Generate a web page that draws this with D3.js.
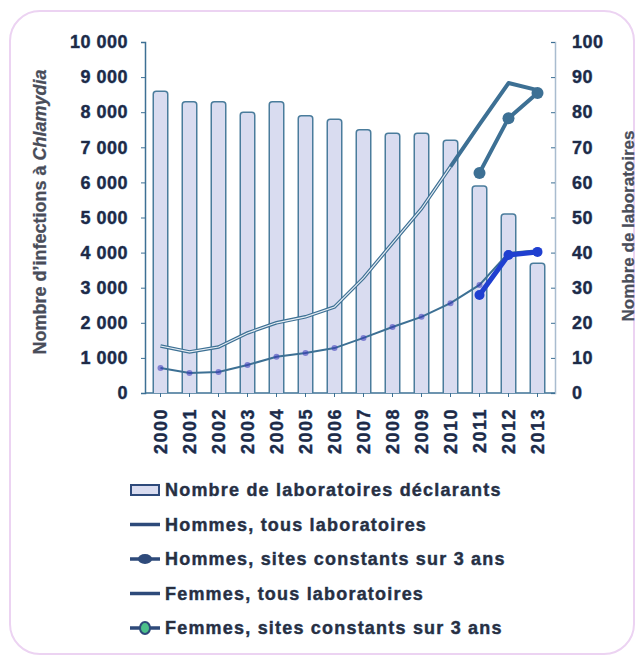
<!DOCTYPE html>
<html>
<head>
<meta charset="utf-8">
<script src="https://cdn.jsdelivr.net/npm/d3@7"></script>
<style>
  body { margin: 0; background: #fff; }
  svg { display: block; font-family: "Liberation Sans", Arial, sans-serif; }
  .lbl { font-weight: bold; fill: #1f2a45; stroke: #2f5f9a; stroke-width: 0.5px; paint-order: stroke; }
</style>
</head>
<body>
<svg width="640" height="657"></svg>
<script>
// années
let years = ['2000', '2001', '2002', '2003', '2004', '2005', '2006',
    '2007', '2008', '2009', '2010', '2011', '2012', '2013'];

// nombre de laboratoires déclarants (axe droit)
let labs = [86, 83, 83, 80, 83, 79, 78, 75, 74, 74, 72, 59, 51, 37];

// infections, tous laboratoires (axe gauche)
let femmesTous = [1340, 1170, 1310, 1710, 2000, 2170, 2450, 3280, 4270, 5250, 6450, 7650, 8830, 8630];
let hommesTous = [710, 570, 600, 800, 1030, 1140, 1280, 1570, 1880, 2170, 2560, 3080, 3990, 4070];

// sites constants sur 3 ans
let sitesYears = ['2011', '2012', '2013'];
let femmesSites = [6270, 7830, 8550];
let hommesSites = [2790, 3930, 4020];

let legendItems = [
    'Nombre de laboratoires déclarants',
    'Hommes, tous laboratoires',
    'Hommes, sites constants sur 3 ans',
    'Femmes, tous laboratoires',
    'Femmes, sites constants sur 3 ans'
];

let steel = '#3d7094';

let svg = d3.select('svg');

// cadre arrondi
svg.append('rect')
    .attr('x', 10).attr('y', 11)
    .attr('width', 624).attr('height', 643)
    .attr('rx', 30)
    .style('fill', 'none')
    .style('stroke', '#ecd3f2')
    .style('stroke-width', 2);

// échelles
let x = d3.scaleBand()
    .domain(years)
    .range([146, 552])
    .paddingInner(0.5)
    .paddingOuter(0.25);

let yLeft = d3.scaleLinear().domain([0, 10000]).range([393, 42]);
let yRight = d3.scaleLinear().domain([0, 100]).range([393, 42]);

let fmt = v => d3.format(',')(v).replace(',', ' ');

// axe gauche
let gl = svg.append('g')
    .attr('transform', 'translate(145,0)')
    .call(d3.axisLeft(yLeft).ticks(10).tickSize(4).tickPadding(13).tickFormat(fmt));
gl.select('.domain').style('stroke', steel).style('stroke-width', 1.5);
gl.selectAll('.tick line').style('stroke', steel);
gl.selectAll('.tick text').attr('class', 'lbl').style('font-size', '18px').style('letter-spacing', '0.5px');

// axe droit
let gr = svg.append('g')
    .attr('transform', 'translate(555,0)')
    .call(d3.axisRight(yRight).ticks(10).tickSize(-4).tickPadding(17));
gr.select('.domain').style('stroke', '#a9bccf').style('stroke-width', 1.5);
gr.selectAll('.tick line').style('stroke', steel);
gr.selectAll('.tick text').attr('class', 'lbl').style('font-size', '18px').style('letter-spacing', '0.5px');

// axe des années
let gb = svg.append('g')
    .attr('transform', 'translate(0,393)')
    .call(d3.axisBottom(x).tickSize(4).tickFormat(''));
gb.select('.domain').style('stroke', steel).style('stroke-width', 1.5).attr('d', 'M145,0H555');
gb.selectAll('.tick line').style('stroke', steel);

svg.append('g')
    .selectAll('text')
    .data(years)
    .enter()
    .append('text')
    .attr('class', 'lbl')
    .attr('transform', d => 'translate(' + (x(d) + x.bandwidth() / 2) + ',408) rotate(-90)')
    .attr('text-anchor', 'end')
    .attr('dy', '0.36em')
    .style('font-size', '18px')
    .style('letter-spacing', '1.5px')
    .text(d => d);

// barres
svg.append('g')
    .selectAll('path')
    .data(labs)
    .enter()
    .append('path')
    .attr('d', (d, i) => {
        let x0 = x(years[i]);
        let w = x.bandwidth();
        let y0 = yRight(d);
        let r = 3;
        return 'M' + x0 + ',393V' + (y0 + r) + 'Q' + x0 + ',' + y0 + ' ' + (x0 + r) + ',' + y0 +
            'H' + (x0 + w - r) + 'Q' + (x0 + w) + ',' + y0 + ' ' + (x0 + w) + ',' + (y0 + r) + 'V393';
    })
    .style('fill', '#d9dcf0')
    .style('stroke', '#4a7c9c')
    .style('stroke-width', 1.5);

let cx = d => x(d) + x.bandwidth() / 2;

let line = d3.line()
    .x(d => cx(d.year))
    .y(d => yLeft(d.value));

let toPts = (ys, vals) => vals.map((v, i) => ({ year: ys[i], value: v }));

// hommes, tous laboratoires
let hPts = toPts(years, hommesTous);
svg.append('path')
    .attr('d', line(hPts))
    .style('fill', 'none')
    .style('stroke', steel)
    .style('stroke-width', 2);
svg.append('g')
    .selectAll('circle')
    .data(hPts)
    .enter()
    .append('circle')
    .attr('cx', d => cx(d.year))
    .attr('cy', d => yLeft(d.value))
    .attr('r', 3)
    .style('fill', '#3636b8')
    .style('opacity', 0.55);

// femmes, tous laboratoires
let fPts = toPts(years, femmesTous);
svg.append('path')
    .attr('d', line(fPts.slice(0, 11)))
    .style('fill', 'none')
    .style('stroke', steel)
    .style('stroke-width', 3.5);
svg.append('path')
    .attr('d', line(fPts.slice(0, 11)))
    .style('fill', 'none')
    .style('stroke', '#e6edf4')
    .style('stroke-width', 1.2);
svg.append('path')
    .attr('d', line(fPts.slice(10)))
    .style('fill', 'none')
    .style('stroke', steel)
    .style('stroke-width', 4)
    .style('stroke-linejoin', 'round');

// hommes, sites constants
let hsPts = toPts(sitesYears, hommesSites);
svg.append('path')
    .attr('d', line(hsPts))
    .style('fill', 'none')
    .style('stroke', '#1f3fd0')
    .style('stroke-width', 5);
svg.append('g')
    .selectAll('circle')
    .data(hsPts)
    .enter()
    .append('circle')
    .attr('cx', d => cx(d.year))
    .attr('cy', d => yLeft(d.value))
    .attr('r', 5)
    .style('fill', '#1f3fd0');

// femmes, sites constants
let fsPts = toPts(sitesYears, femmesSites);
svg.append('path')
    .attr('d', line(fsPts))
    .style('fill', 'none')
    .style('stroke', steel)
    .style('stroke-width', 4);
svg.append('g')
    .selectAll('circle')
    .data(fsPts)
    .enter()
    .append('circle')
    .attr('cx', d => cx(d.year))
    .attr('cy', d => yLeft(d.value))
    .attr('r', 6)
    .style('fill', steel);

// titres des axes
let tl = svg.append('text')
    .attr('class', 'lbl')
    .attr('transform', 'translate(46,212) rotate(-90)')
    .attr('text-anchor', 'middle')
    .style('font-size', '18px')
    .style('fill', '#4a4d58')
    .style('stroke', '#5a6a8a')
    .style('stroke-width', 0.3);
tl.append('tspan').text('Nombre d\u2019infections à ');
tl.append('tspan').style('font-style', 'italic').text('Chlamydia');

svg.append('text')
    .attr('class', 'lbl')
    .attr('transform', 'translate(634,226) rotate(-90)')
    .attr('text-anchor', 'middle')
    .style('font-size', '17px')
    .style('fill', '#4a4d58')
    .style('stroke', '#5a6a8a')
    .style('stroke-width', 0.3)
    .text('Nombre de laboratoires');

// légende
let lg = svg.append('g').attr('transform', 'translate(130,490)');
let row = lg.selectAll('g')
    .data(legendItems)
    .enter()
    .append('g')
    .attr('transform', (d, i) => 'translate(0,' + (i * 34.5) + ')');

row.filter((d, i) => i === 0)
    .append('rect')
    .attr('x', 1).attr('y', -5)
    .attr('width', 28).attr('height', 10)
    .style('fill', '#d9dcf0')
    .style('stroke', '#2e4a7a')
    .style('stroke-width', 2);

row.filter((d, i) => i > 0)
    .append('line')
    .attr('x1', 0).attr('x2', 30)
    .style('stroke', '#2e4a7a')
    .style('stroke-width', 3.5);

row.filter((d, i) => i === 2)
    .append('ellipse')
    .attr('cx', 15).attr('rx', 7).attr('ry', 5)
    .style('fill', '#2e4a7a');

row.filter((d, i) => i === 4)
    .append('ellipse')
    .attr('cx', 15).attr('rx', 5).attr('ry', 6)
    .style('fill', '#4cc08a')
    .style('stroke', '#2e4a7a')
    .style('stroke-width', 2);

row.append('text')
    .attr('class', 'lbl')
    .attr('x', 35)
    .attr('dy', '0.36em')
    .style('font-size', '18px')
    .style('letter-spacing', '1.2px')
    .style('fill', '#2a2f3e')
    .text(d => d);
</script>
</body>
</html>
